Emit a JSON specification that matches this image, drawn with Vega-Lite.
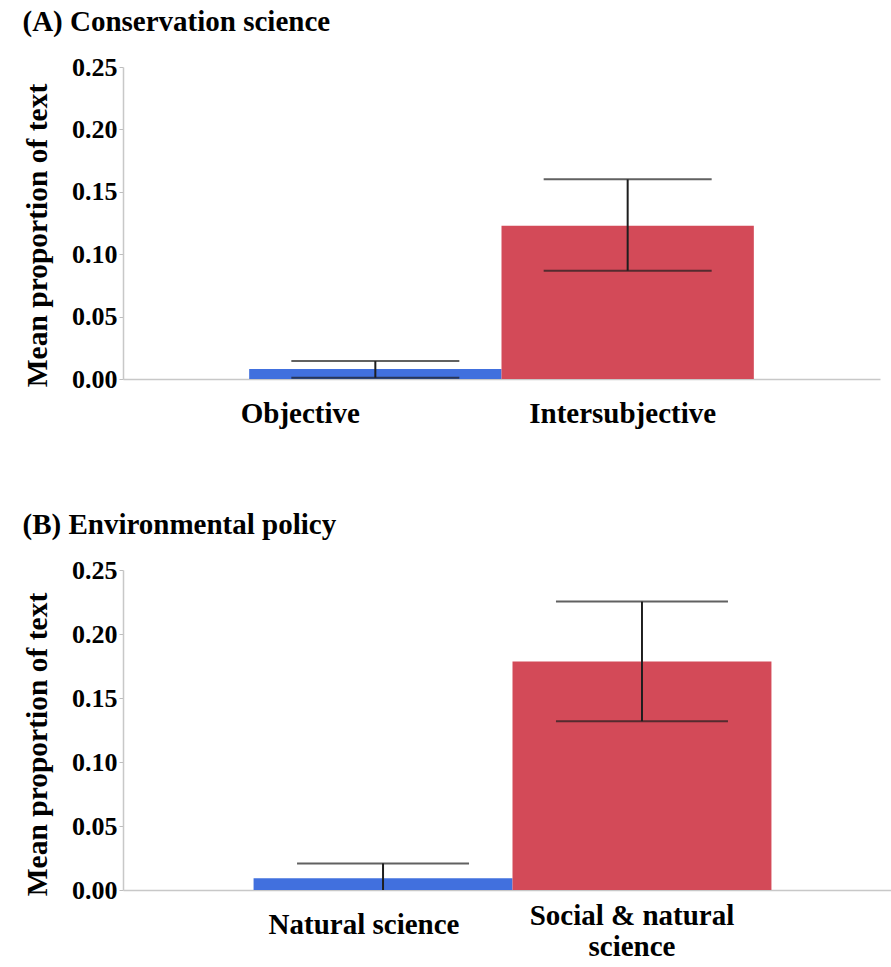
{
  "$schema": "https://vega.github.io/schema/vega-lite/v6.json",
  "background": "white",
  "padding": {"left": 22, "top": 8, "right": 0, "bottom": 0},
  "spacing": 83,
  "config": {
    "view": {"stroke": null},
    "font": "Liberation Serif",
    "title": {"font": "Liberation Serif", "fontSize": 29, "fontWeight": "bold", "color": "black", "anchor": "start", "frame": "bounds", "offset": 17},
    "axisX": {
      "title": null,
      "ticks": false,
      "domainColor": "#c8c8c8",
      "domainWidth": 1.5,
      "labelFont": "Liberation Serif",
      "labelFontSize": 29,
      "labelFontWeight": "bold",
      "labelColor": "black",
      "labelAngle": 0,
      "labelPadding": 20,
      "labelLimit": 0,
      "grid": false
    }
  },
  "datasets": {
    "a": [
      {"category": "Objective", "mean": 0.008, "lo": 0.001, "hi": 0.0144},
      {"category": "Intersubjective", "mean": 0.1228, "lo": 0.0868, "hi": 0.16}
    ],
    "b": [
      {"category": "Natural science", "mean": 0.0091, "lo": -0.0026, "hi": 0.0208},
      {"category": "Social & natural science", "mean": 0.1786, "lo": 0.1319, "hi": 0.2253}
    ]
  },
  "resolve": {"scale": {"color": "independent"}},
  "vconcat": [
    {
      "title": {"text": "(A) Conservation science"},
      "width": 757,
      "height": 312,
      "data": {"name": "a"},
      "encoding": {
        "x": {
          "field": "category", "type": "nominal", "sort": null,
          "scale": {"paddingInner": 0, "paddingOuter": 0.5},
          "axis": {"labelOffset": {"condition": {"test": "datum.value == 'Objective'", "value": -75}, "value": -5}}
        }
      },
      "layer": [
        {
          "mark": {"type": "bar", "clip": true},
          "encoding": {
            "y": {
              "field": "mean", "type": "quantitative", "title": "Mean proportion of text",
              "scale": {"domain": [0, 0.25], "nice": false},
              "axis": {
                "values": [0, 0.025, 0.05, 0.075, 0.1, 0.125, 0.15, 0.175, 0.2, 0.225, 0.25],
                "labelExpr": "round(datum.value*1000) % 50 == 0 ? format(datum.value, '.2f') : ''",
                "labelOverlap": false,
                "labelFlush": false,
                "labelFont": "Liberation Serif",
                "labelFontSize": 26,
                "labelFontWeight": "bold",
                "labelColor": "black",
                "labelPadding": 2,
                "tickSize": 4,
                "tickColor": "#bdbdbd",
                "domainColor": "#c8c8c8",
                "domainWidth": 1.5,
                "grid": false,
                "titleFont": "Liberation Serif",
                "titleFontSize": 29.5,
                "titleFontWeight": "bold",
                "titleColor": "black",
                "titlePadding": 19,
                "titleY": 168
              }
            },
            "color": {"field": "category", "type": "nominal", "scale": {"domain": ["Objective", "Intersubjective"], "range": ["#4170DE", "#D34A58"]}, "legend": null}
          }
        },
        {
          "mark": {"type": "rule", "clip": true, "color": "#1e1e1e", "strokeWidth": 2},
          "encoding": {
            "y": {"field": "lo", "type": "quantitative", "title": "Mean proportion of text"},
            "y2": {"field": "hi"}
          }
        },
        {
          "mark": {"type": "tick", "clip": true, "color": "#1e1e1e", "thickness": 2, "size": 168},
          "encoding": {"y": {"field": "hi", "type": "quantitative", "title": "Mean proportion of text"}}
        },
        {
          "mark": {"type": "tick", "clip": true, "color": "#1e1e1e", "thickness": 2, "size": 168},
          "encoding": {"y": {"field": "lo", "type": "quantitative", "title": "Mean proportion of text"}}
        }
      ]
    },
    {
      "title": {"text": "(B) Environmental policy"},
      "width": 768,
      "height": 320,
      "data": {"name": "b"},
      "encoding": {
        "x": {
          "field": "category", "type": "nominal", "sort": null,
          "scale": {"paddingInner": 0, "paddingOuter": 0.483, "align": 0.522},
          "axis": {
            "labelExpr": "datum.value == 'Social & natural science' ? ['Social & natural', 'science'] : datum.label",
            "labelLineHeight": 31,
            "labelOffset": {"condition": {"test": "datum.value == 'Natural science'", "value": -19}, "value": -10},
            "labelPadding": {"condition": {"test": "datum.value == 'Natural science'", "value": 20}, "value": 11}
          }
        }
      },
      "layer": [
        {
          "mark": {"type": "bar", "clip": true},
          "encoding": {
            "y": {
              "field": "mean", "type": "quantitative", "title": "Mean proportion of text",
              "scale": {"domain": [0, 0.25], "nice": false},
              "axis": {
                "values": [0, 0.025, 0.05, 0.075, 0.1, 0.125, 0.15, 0.175, 0.2, 0.225, 0.25],
                "labelExpr": "round(datum.value*1000) % 50 == 0 ? format(datum.value, '.2f') : ''",
                "labelOverlap": false,
                "labelFlush": false,
                "labelFont": "Liberation Serif",
                "labelFontSize": 26,
                "labelFontWeight": "bold",
                "labelColor": "black",
                "labelPadding": 2,
                "tickSize": 4,
                "tickColor": "#bdbdbd",
                "domainColor": "#c8c8c8",
                "domainWidth": 1.5,
                "grid": false,
                "titleFont": "Liberation Serif",
                "titleFontSize": 29.5,
                "titleFontWeight": "bold",
                "titleColor": "black",
                "titlePadding": 19,
                "titleY": 174
              }
            },
            "color": {"field": "category", "type": "nominal", "scale": {"domain": ["Natural science", "Social & natural science"], "range": ["#4170DE", "#D34A58"]}, "legend": null}
          }
        },
        {
          "mark": {"type": "rule", "clip": true, "color": "#1e1e1e", "strokeWidth": 2},
          "encoding": {
            "y": {"field": "lo", "type": "quantitative", "title": "Mean proportion of text"},
            "y2": {"field": "hi"}
          }
        },
        {
          "mark": {"type": "tick", "clip": true, "color": "#1e1e1e", "thickness": 2, "size": 172},
          "encoding": {"y": {"field": "hi", "type": "quantitative", "title": "Mean proportion of text"}}
        },
        {
          "mark": {"type": "tick", "clip": true, "color": "#1e1e1e", "thickness": 2, "size": 172},
          "encoding": {"y": {"field": "lo", "type": "quantitative", "title": "Mean proportion of text"}}
        }
      ]
    }
  ]
}
